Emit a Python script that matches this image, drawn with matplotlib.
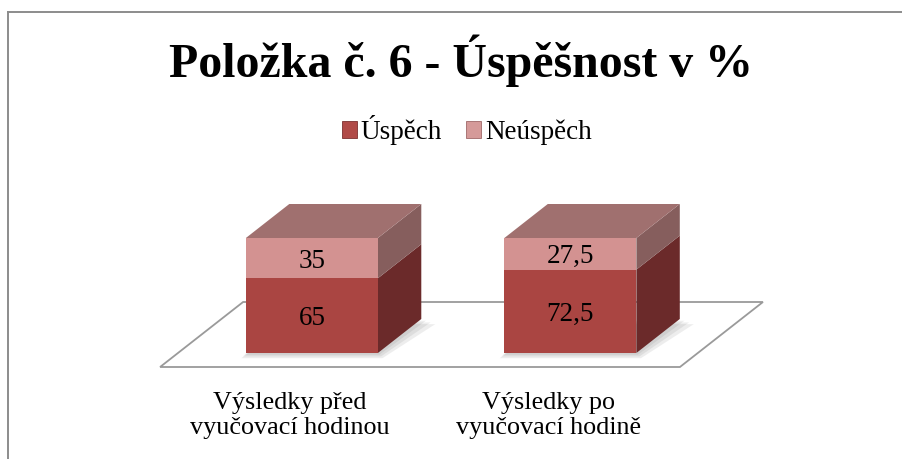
import matplotlib
matplotlib.use("Agg")
import matplotlib.pyplot as plt
from matplotlib.patches import Polygon, Patch
from matplotlib.lines import Line2D

# ---- data ----
categories = ["Výsledky před\nvyučovací hodinou", "Výsledky po\nvyučovací hodině"]
series_names = ["Úspěch", "Neúspěch"]
uspech = [65, 72.5]
neuspech = [35, 27.5]
title = "Položka č. 6 - Úspěšnost v %"

# ---- style ----
front_cols = ["#AA4542", "#D39291"]
side_cols = ["#6B2A2A", "#865E5D"]
top_col = "#A0706F"
legend_cols = ["#B04A47", "#D59A99"]

W, H = 902, 459
fig = plt.figure(figsize=(W / 100, H / 100), dpi=100)
ax = fig.add_axes([0, 0, 1, 1])
ax.set_axis_off()

# pixel mapping (category units / percent units)
px_x = 258.5
px_y = 1.15
x0_px = 294.0
y0_px = 367.0
ax.set_xlim(-x0_px / px_x, (W - x0_px) / px_x)
ax.set_ylim((y0_px - H) / px_y, y0_px / px_y)

# oblique depth vector (per unit depth)
DX = 83 / px_x
DZ = 65 / px_y
f0, f1 = 14 / 65, 48 / 65
bw = 132 / px_x


def P(x, z, d):
    return (x + d * DX, z + d * DZ)


# floor
fl, fr = -0.518, 1.493
floor = Polygon([P(fl, 0, 0), P(fr, 0, 0), P(fr, 0, 1), P(fl, 0, 1)],
                closed=True, facecolor="white", edgecolor="#9A9A9A", lw=1.3, zorder=1)
ax.add_patch(floor)

series = [uspech, neuspech]
for i, cat in enumerate(categories):
    xc = i
    xl, xr = xc - bw / 2, xc + bw / 2
    # soft shadow
    for k in range(3):
        e = 0.006 * (k + 1)
        dz = -1.5 * (k + 1)
        sh = Polygon([P(xl - e, dz, f0), P(xr + e, dz, f0),
                      P(xr + e * 3, dz, f1), P(xl, dz, f1)],
                     closed=True, facecolor="#555555", edgecolor="none", alpha=0.10, zorder=2)
        ax.add_patch(sh)
    bottom = 0
    for s, vals in enumerate(series):
        v = vals[i]
        top = bottom + v
        front = Polygon([P(xl, bottom, f0), P(xr, bottom, f0), P(xr, top, f0), P(xl, top, f0)],
                        closed=True, facecolor=front_cols[s], edgecolor="none", zorder=4)
        side = Polygon([P(xr, bottom, f0), P(xr, bottom, f1), P(xr, top, f1), P(xr, top, f0)],
                       closed=True, facecolor=side_cols[s], edgecolor="none", zorder=3)
        ax.add_patch(side)
        ax.add_patch(front)
        lab = ("%g" % v).replace(".", ",")
        cx, cz = P(xc, bottom + v / 2, f0)
        ax.text(cx, cz, lab, ha="center", va="center_baseline", fontsize=19.5,
                family="Liberation Serif", color="black", zorder=6)
        bottom = top
    topf = Polygon([P(xl, bottom, f0), P(xr, bottom, f0), P(xr, bottom, f1), P(xl, bottom, f1)],
                   closed=True, facecolor=top_col, edgecolor="none", zorder=4)
    ax.add_patch(topf)
    ax.text(i - 0.017, -21.5, cat, ha="center", va="top", fontsize=18.8,
            family="Liberation Serif", linespacing=1.22, zorder=6)

# title
fig.text(461 / W, 1 - 77 / H, title, ha="center", va="baseline", fontsize=34.5,
         fontweight="bold", family="Liberation Serif")

# legend
handles = [Patch(facecolor=c, edgecolor="#7A3030" if k == 0 else "#A06868", lw=0.6)
           for k, c in enumerate(legend_cols)]
fig.legend(handles, series_names, loc="center", bbox_to_anchor=(467 / W, 1 - 130 / H),
           ncol=2, frameon=False, prop={"family": "Liberation Serif", "size": 19.5},
           handlelength=0.55, handleheight=0.55, handletextpad=0.15, columnspacing=0.9)

# outer border (top and left visible)
fig.add_artist(Line2D([8 / W, 1.0], [1 - 12 / H, 1 - 12 / H], transform=fig.transFigure,
                      color="#8C8C8C", lw=1.4))
fig.add_artist(Line2D([8 / W, 8 / W], [0.0, 1 - 12 / H], transform=fig.transFigure,
                      color="#8C8C8C", lw=1.4))

fig.savefig("out.png", dpi=100)
